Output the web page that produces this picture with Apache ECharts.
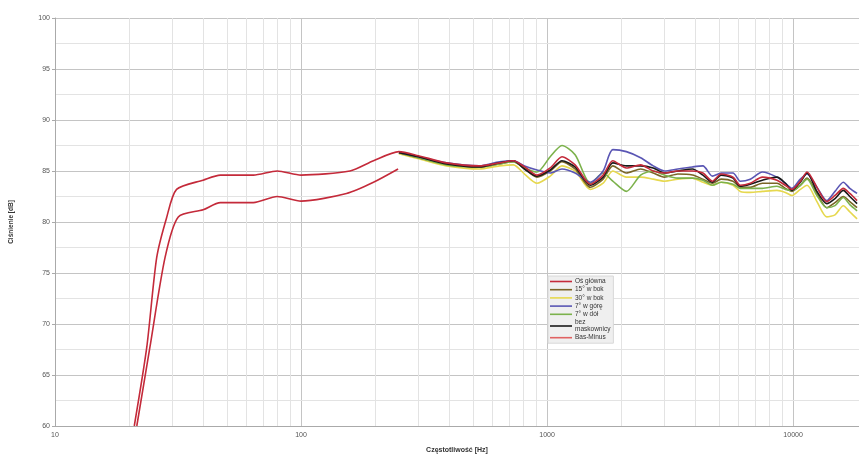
<!DOCTYPE html>
<html>
<head>
<meta charset="utf-8">
<script src="https://cdn.jsdelivr.net/npm/echarts@6/dist/echarts.min.js"></script>
<style>html,body{margin:0;padding:0;background:#fff}#c{width:859px;height:459px}</style>
</head>
<body>
<div id="c"></div>
<script>
// Frequency grid (Hz) for the main measurements
const freqs = [250,300,390,530,640,730,810,910,1030,1150,1300,1500,1690,1850,2100,2400,2700,3000,3400,3900,4300,4700,5100,5700,6100,6700,7500,8600,9300,9900,10700,11400,12500,13700,14800,16000,17000,18200];
const osGlowna = [86.9,86.5,85.8,85.5,85.8,86.0,85.4,84.6,85.3,86.4,85.6,83.7,84.6,86.0,85.3,85.6,85.0,84.8,85.0,85.0,84.8,84.0,84.7,84.4,83.6,83.8,84.4,84.1,83.6,83.2,84.0,84.9,83.4,82.0,82.6,83.3,82.8,82.1];
const bok15 = [86.8,86.3,85.7,85.4,85.7,85.9,85.2,84.4,85.0,85.9,85.2,83.4,84.2,85.5,84.8,85.2,84.8,84.4,84.7,84.6,84.2,83.8,84.2,84.0,83.4,83.4,83.8,83.8,83.3,83.0,83.6,84.3,82.8,81.4,81.9,82.5,82.0,81.4];
const bok30 = [86.7,86.2,85.5,85.2,85.5,85.6,84.7,83.8,84.5,85.5,85.0,83.2,83.8,85.0,84.4,84.4,84.2,84.0,84.2,84.3,83.9,83.6,83.9,83.6,83.0,82.9,83.0,83.1,82.9,82.6,83.2,83.6,82.0,80.5,80.7,81.6,81.0,80.3];
const gora7 = [86.8,86.4,85.8,85.5,85.9,86.0,85.5,85.1,84.8,85.2,84.8,83.9,85.0,87.1,86.9,86.3,85.5,85.0,85.2,85.4,85.5,84.5,84.8,84.8,84.0,84.2,84.9,84.4,83.8,83.3,84.2,84.7,83.4,82.1,83.0,83.9,83.3,82.8];
const dol7 = [86.8,86.3,85.6,85.4,85.7,85.9,85.3,84.9,86.4,87.5,86.6,83.8,84.8,84.0,83.0,84.6,85.0,84.6,84.3,84.3,84.1,83.6,83.9,83.7,83.3,83.3,83.3,83.5,83.2,83.1,83.6,84.2,82.6,81.4,81.6,82.4,81.7,81.1];
const bezMaskownicy = [86.8,86.4,85.7,85.4,85.8,86.0,85.2,84.5,85.1,86.0,85.4,83.6,84.4,85.8,85.5,85.5,85.3,84.8,85.0,85.2,84.6,83.9,84.6,84.3,83.5,83.7,84.1,84.4,83.8,83.1,83.9,84.8,83.0,81.8,82.3,83.1,82.5,81.8];
// Low-frequency (near-field) curves
const bassFreqUpper = [21,23.6,25.9,28.4,31.2,40,47,64,80,100,158,197];
const bassUpper = [60,67.7,76.5,80.4,83.2,84.1,84.6,84.6,85.0,84.6,85.0,86.0];
const bassFreqLower = [21.5,24.3,28,31.7,40,47,64,80,100,153,197,248];
const bassLower = [60,67.7,76.5,80.5,81.2,81.9,81.9,82.5,82.05,82.8,83.9,85.2];
// Axis ticks
const yTicks = [60,65,70,75,80,85,90,95,100];
const yMinor = [62.5,67.5,72.5,77.5,82.5,87.5,92.5,97.5];
const xMajor = [10,100,1000,10000];
const xMinor = [20,30,40,50,60,70,80,90,200,300,400,500,600,700,800,900,2000,3000,4000,5000,6000,7000,8000,9000];

const names = ['Oś główna','15° w bok','30° w bok','7° w górę','7° w dół','bez maskownicy','Bas-Minus'];
const colors = ['#c42a3a','#7a6526','#e6d84e','#5a56b4','#7cb24c','#1a1a1a','#e06262'];

function pairs(xs, ys){ return xs.map((x,i)=>[x, ys[i]]); }

const mainSets = [osGlowna, bok15, bok30, gora7, dol7, bezMaskownicy];
const series = [];
// minor grid lines placed through the axis scale
series.push({
  type:'line', data:[], silent:true, z:0,
  markLine:{silent:true, z:0, symbol:'none', label:{show:false}, animation:false,
    lineStyle:{color:'#e3e3e3', width:1, type:'solid'},
    data: xMinor.map(v=>({xAxis:v})).concat(yMinor.map(v=>({yAxis:v})))
  }
});
const drawOrder = [2,1,4,3,5,0];
drawOrder.forEach(i=>{
  let d = pairs(freqs, mainSets[i]);
  if (i===0) d = pairs(bassFreqUpper, bassUpper).concat(d);
  series.push({name:names[i], type:'line', data:d, smooth:0.25, showSymbol:false, symbol:'none',
    lineStyle:{width:1.6, color:colors[i]}, itemStyle:{color:colors[i]}, z:3+drawOrder.indexOf(i)});
});
series.push({name:names[6], type:'line', data:pairs(bassFreqLower, bassLower), smooth:0.25, showSymbol:false, symbol:'none',
  lineStyle:{width:1.6, color:'#c42a3a'}, itemStyle:{color:colors[6]}, z:3});

const chart = echarts.init(document.getElementById('c'), null, {renderer:'canvas'});
chart.setOption({
  animation:false,
  backgroundColor:'#fff',
  grid:{left:55, top:18, right:0, bottom:29, containLabel:false},
  legend:{
    data:names.map((n,i)=>({name:n, itemStyle:{color:colors[i]}, lineStyle:{color:colors[i]}})),
    orient:'vertical', left:548, top:276, padding:[2,3,2,2],
    backgroundColor:'#efefef', borderColor:'#d8d8d8', borderWidth:1,
    itemWidth:22, itemHeight:6, itemGap:1.2,
    icon:'path://M0,0 L22,0 L22,1.6 L0,1.6 Z',
    selectedMode:false,
    textStyle:{fontSize:6.5, color:'#333', fontFamily:'Liberation Sans, Arial', lineHeight:7, padding:[0,0,0,-2]},
    formatter: n => n==='bez maskownicy' ? 'bez\nmaskownicy' : n
  },
  xAxis:{
    type:'log', logBase:10, min:10, max:18530,
    name:'Częstotliwość [Hz]', nameLocation:'middle', nameGap:21,
    nameTextStyle:{fontSize:7, color:'#333', fontWeight:'bold', fontFamily:'Liberation Sans, Arial'},
    axisLine:{show:true, lineStyle:{color:'#aaaaaa', width:1}},
    axisTick:{show:false},
    axisLabel:{fontSize:7, color:'#555', margin:6, fontFamily:'Liberation Sans, Arial',
      showMaxLabel:false,
      formatter: v => xMajor.indexOf(Math.round(v))>=0 ? String(Math.round(v)) : ''},
    splitLine:{show:true, lineStyle:{color:'#c4c4c4', width:1}}
  },
  yAxis:{
    type:'value', min:60, max:100, interval:5,
    name:'Ciśnienie [dB]', nameLocation:'middle', nameGap:40, nameRotate:90,
    nameTextStyle:{fontSize:6.5, color:'#333', fontWeight:'bold', fontFamily:'Liberation Sans, Arial'},
    axisLine:{show:true, lineStyle:{color:'#aaaaaa', width:1}},
    axisTick:{show:true, length:3, lineStyle:{color:'#aaaaaa'}},
    axisLabel:{fontSize:7, color:'#555', margin:5, fontFamily:'Liberation Sans, Arial',
      formatter: v => yTicks.indexOf(v)>=0 ? String(v) : ''},
    splitLine:{show:true, lineStyle:{color:'#c4c4c4', width:1}}
  },
  series:series
});
</script>
</body>
</html>
